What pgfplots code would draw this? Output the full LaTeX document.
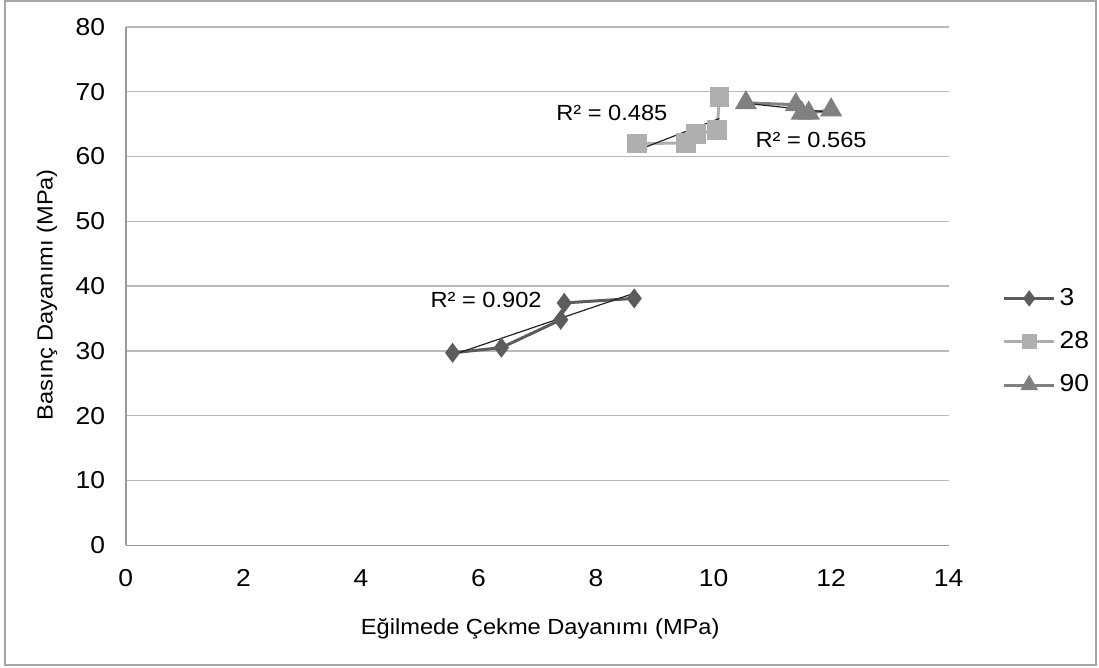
\documentclass[border=0pt]{standalone}
\usepackage{fontspec}
\setmainfont{Liberation Sans}[FakeStretch=1.08]
\usepackage{pgfplots}
\usepackage{pgfplotstable}
\pgfplotsset{compat=1.18}

\definecolor{sA}{RGB}{92,92,92}
\definecolor{sB}{RGB}{175,175,175}
\definecolor{sC}{RGB}{128,128,128}
\definecolor{gridc}{RGB}{185,185,185}
\definecolor{trend}{RGB}{35,35,35}

% Egilmede cekme (x) - basinc (y), MPa
\pgfplotstableread{
x y
5.56 29.7
6.39 30.5
7.40 34.8
7.46 37.4
8.65 38.1
}\tA
\pgfplotstableread{
x y
8.70 62.0
9.53 62.1
9.70 63.5
10.06 64.1
10.10 69.2
}\tB
\pgfplotstableread{
x y
10.55 68.3
11.40 68.0
11.50 66.7
11.62 66.7
12.00 67.2
}\tC

\begin{document}
\fontsize{11}{13}\selectfont
\begin{tikzpicture}
\path (0,0) rectangle (549.5bp,-334bp);
\draw[gray!70, line width=1bp] (2.5bp,-0.5bp) rectangle (549bp,-333bp);
\begin{axis}[
    at={(63bp,-273bp)}, anchor=south west,
    scale only axis,
    width=412bp, height=259.5bp,
    xmin=0, xmax=14, ymin=0, ymax=80,
    xtick={0,2,...,14}, ytick={0,10,...,80},
    axis x line*=bottom, axis y line*=left,
    axis line style={gray!80, line width=0.7bp, -},
    major tick length=0pt,
    ymajorgrids,
    grid style={gridc, line width=0.7bp},
    /pgf/number format/assume math mode=true,
    tick label style={font=\fontsize{12.3}{14}\selectfont},
    yticklabel style={xshift=-6.5bp},
    xticklabel style={yshift=-8.5bp},
    clip=false,
    legend style={at={(1.058,0.512)}, anchor=north west, draw=none,
        font=\fontsize{12.3}{14}\selectfont, row sep=7.5bp, fill=none},
    legend cell align=left,
    legend image code/.code={
        \draw[mark repeat=2, mark phase=2, #1, mark options={scale=0.75}] plot coordinates {(0bp,0bp) (12.5bp,0bp) (25bp,0bp)};},
]
\addplot[sA, line width=1.5bp, mark=diamond*, mark size=3.8bp, mark options={solid}] table[x=x,y=y] {\tA};
\addlegendentry{3}
\addplot[sB, line width=1.5bp, mark=square*, mark size=4.1bp] table[x=x,y=y] {\tB};
\addlegendentry{28}
\addplot[sC, line width=1.5bp, mark=triangle*, mark size=4.9bp] table[x=x,y=y] {\tC};
\addlegendentry{90}

\addplot[trend, line width=0.6bp, no marks, forget plot] table[x=x, y={create col/linear regression={y=y}}] {\tA};
\addplot[trend, line width=0.6bp, no marks, forget plot] table[x=x, y={create col/linear regression={y=y}}] {\tB};
\addplot[trend, line width=0.6bp, no marks, forget plot] table[x=x, y={create col/linear regression={y=y}}] {\tC};

\node at (axis cs:6.13,37.9) {R² = 0.902};
\node at (axis cs:8.27,66.7) {R² = 0.485};
\node at (axis cs:11.66,62.6) {R² = 0.565};
\end{axis}
\node at (270.5bp,-315bp) {Eğilmede Çekme Dayanımı (MPa)};
\node[rotate=90] at (23.5bp,-147.5bp) {Basınç Dayanımı (MPa)};
\end{tikzpicture}
\end{document}
